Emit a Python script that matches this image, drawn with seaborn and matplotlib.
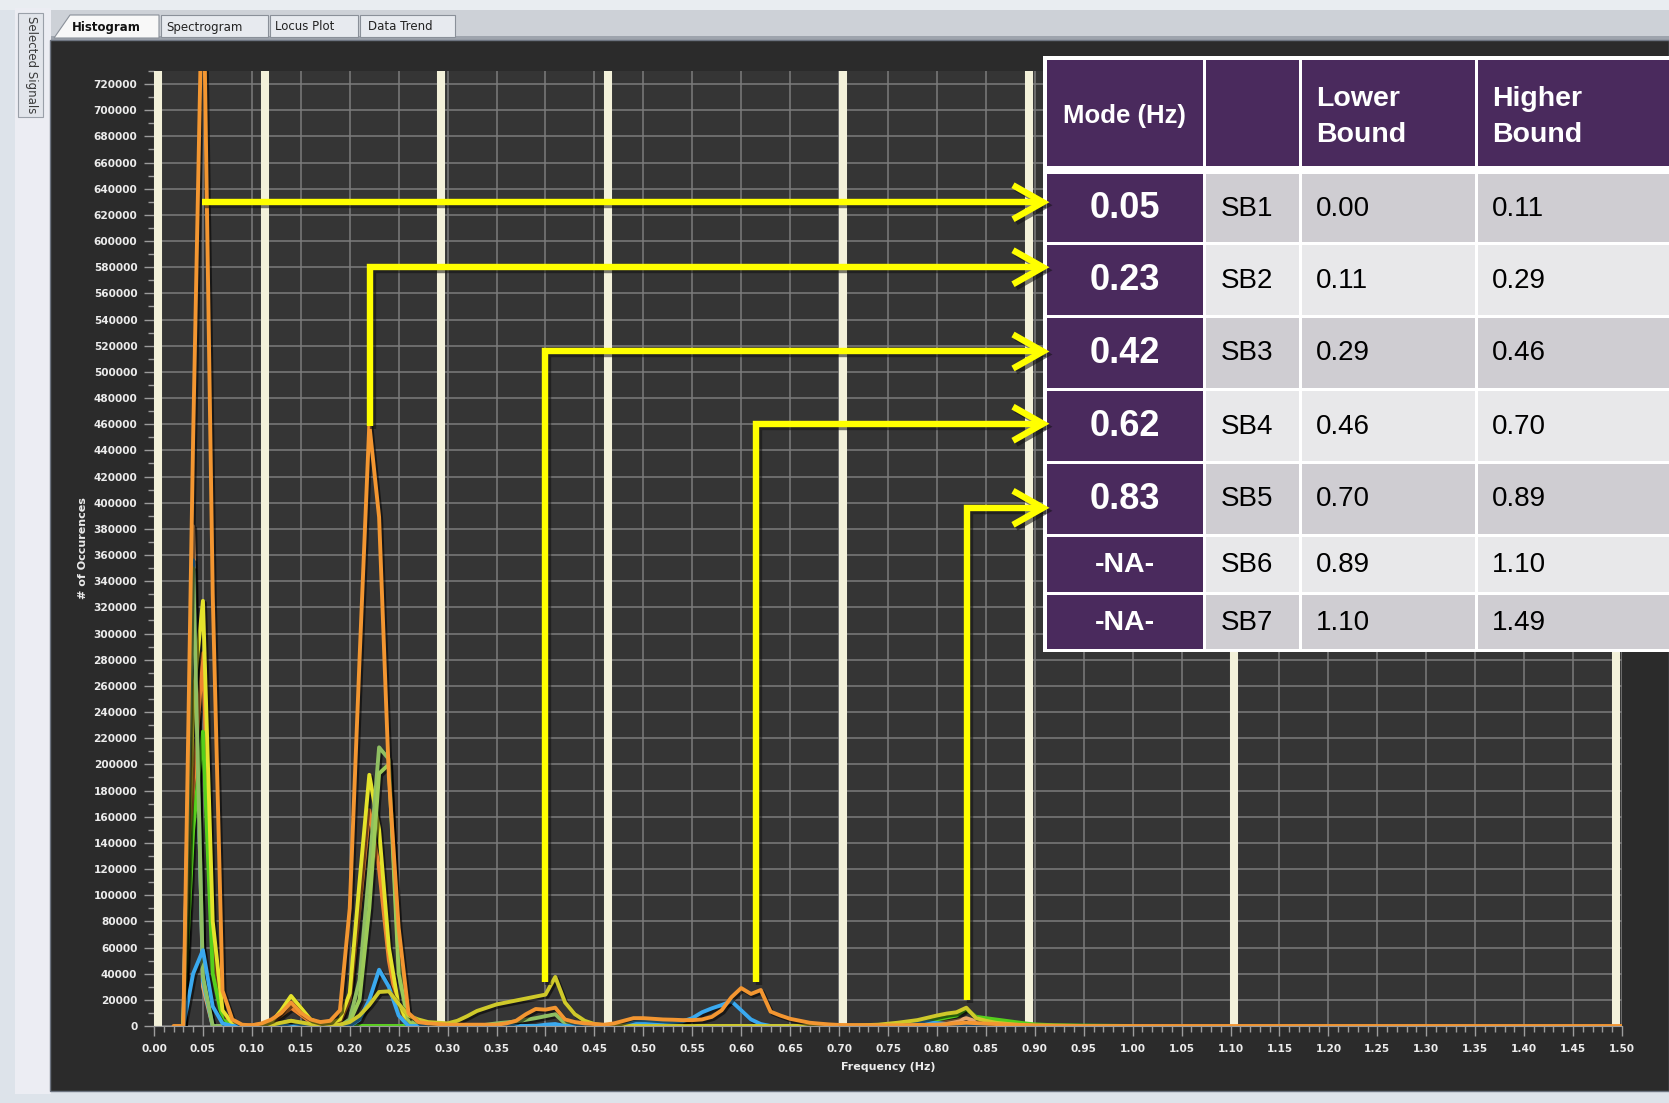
import numpy as np
import pandas as pd
import seaborn as sns
import matplotlib.pyplot as plt
import matplotlib.patheffects as pe
import matplotlib.transforms as mtransforms
from matplotlib.patches import Rectangle, Polygon
from matplotlib.ticker import MultipleLocator, FuncFormatter

W, H, DPI = 1669, 1103, 100

# ---- histogram curves (frequency in Hz, number of occurences) ----
orange_f = [0.02, 0.03, 0.04, 0.05, 0.06, 0.07, 0.08, 0.09, 0.10, 0.11, 0.12, 0.13, 0.14, 0.15,
            0.16, 0.17, 0.18, 0.19, 0.20, 0.21, 0.22, 0.23, 0.24, 0.25, 0.26, 0.27, 0.28, 0.29,
            0.30, 0.35, 0.36, 0.37, 0.38, 0.39, 0.40, 0.41, 0.42, 0.43, 0.44, 0.45, 0.46, 0.47,
            0.48, 0.49, 0.50, 0.51, 0.52, 0.53, 0.54, 0.55, 0.56, 0.57, 0.58, 0.59, 0.60, 0.61,
            0.62, 0.63, 0.64, 0.65, 0.66, 0.67, 0.68, 0.69, 0.70, 0.75, 0.80, 0.83, 0.86, 0.90,
            0.95, 1.50]
orange_n = [0, 0, 450000, 830000, 330000, 27000, 5000, 1000, 500, 2000, 5000, 10000, 18000, 10000,
            5000, 3000, 4000, 12000, 90000, 280000, 460000, 389000, 190000, 75000, 10000, 3000, 2000, 1500,
            1000, 1000, 2000, 4000, 9000, 13000, 12500, 14000, 5000, 3000, 2000, 1500, 1000, 2000,
            4000, 6000, 6000, 5500, 5000, 4800, 4500, 4500, 5000, 7000, 12000, 22000, 29000, 24500,
            27500, 11000, 8000, 5500, 4000, 2500, 1800, 1200, 800, 500, 1000, 2500, 1500, 500,
            0, 0]

orange2_f = [0.03, 0.04, 0.05, 0.06, 0.07, 0.08, 0.09, 0.12, 0.14, 0.16, 0.19, 0.20, 0.21, 0.22,
             0.23, 0.24, 0.25, 0.26, 0.27]
orange2_n = [0, 180000, 285000, 60000, 10000, 2000, 0, 2000, 14000, 3000, 3000, 20000, 90000, 165000,
             120000, 50000, 10000, 2000, 0]

yellow_f = [0.03, 0.04, 0.05, 0.06, 0.07, 0.08, 0.09, 0.11, 0.12, 0.13, 0.14, 0.15, 0.16, 0.17,
            0.18, 0.19, 0.20, 0.21, 0.22, 0.23, 0.24, 0.25, 0.26, 0.27]
yellow_n = [0, 250000, 325000, 80000, 12000, 2000, 0, 0, 3000, 12000, 23000, 14000, 5000, 2000,
            2000, 5000, 25000, 110000, 192000, 150000, 60000, 15000, 3000, 0]

olive_f = [0.10, 0.12, 0.14, 0.16, 0.19, 0.20, 0.21, 0.22, 0.23, 0.24, 0.25, 0.26, 0.27, 0.28,
           0.29, 0.30, 0.31, 0.32, 0.33, 0.34, 0.35, 0.36, 0.37, 0.38, 0.39, 0.40, 0.41, 0.42,
           0.43, 0.44, 0.45, 0.46, 0.50, 0.70, 0.74, 0.76, 0.78, 0.80, 0.81, 0.82, 0.83, 0.84,
           0.85, 0.86, 0.88, 0.90]
olive_n = [0, 1000, 4000, 1500, 1000, 3000, 8000, 16000, 26000, 26500, 17000, 8000, 5000, 3000,
           2500, 2000, 4000, 7500, 11500, 14000, 16500, 18000, 19500, 21000, 22500, 24000, 37500, 18000,
           9000, 4000, 1500, 500, 0, 0, 1000, 2500, 4500, 8000, 9500, 10500, 14000, 6000,
           4000, 2500, 1000, 0]

blue_tall_f = [0.03, 0.04, 0.05, 0.06]
blue_tall_n = [0, 356000, 35000, 0]

sage_f = [0.03, 0.04, 0.05, 0.06, 0.12, 0.13, 0.14, 0.15, 0.19, 0.20, 0.21, 0.22, 0.23, 0.24,
          0.25, 0.26, 0.27, 0.33, 0.35, 0.37, 0.39, 0.40, 0.41, 0.42, 0.43, 0.80, 0.83, 0.86]
sage_n = [0, 350000, 38000, 0, 0, 2000, 4000, 2000, 0, 5000, 35000, 120000, 213000, 204000,
          50000, 5000, 0, 0, 2000, 3500, 6000, 7500, 9000, 2000, 0, 0, 1000, 0]

sage2_f = [0.19, 0.20, 0.21, 0.22, 0.23, 0.24, 0.25, 0.26, 0.27]
sage2_n = [0, 3000, 20000, 90000, 193000, 200000, 40000, 3000, 0]

green_f = [0.03, 0.04, 0.05, 0.06, 0.07, 0.08, 0.75, 0.78, 0.80, 0.82, 0.83, 0.84, 0.85, 0.86,
           0.87, 0.88, 0.89, 0.90, 0.92, 0.95, 1.00]
green_n = [0, 150000, 225000, 40000, 5000, 0, 0, 1500, 5000, 8000, 13000, 7000, 6000, 5000,
           4000, 3000, 2000, 1200, 600, 300, 0]

blue_f = [0.03, 0.04, 0.05, 0.06, 0.07, 0.08, 0.20, 0.21, 0.22, 0.23, 0.24, 0.25, 0.26, 0.39,
          0.40, 0.41, 0.42, 0.48, 0.49, 0.50, 0.52, 0.54, 0.55, 0.56, 0.57, 0.58, 0.59, 0.60,
          0.61, 0.62, 0.63, 0.75, 0.77, 0.79, 0.81, 0.83, 0.85]
blue_n = [0, 40000, 58000, 15000, 2000, 0, 0, 5000, 20000, 43000, 30000, 8000, 0, 0,
          1000, 1500, 0, 0, 2500, 3000, 3000, 3500, 6000, 10500, 13500, 16000, 19000, 12000,
          5000, 1500, 0, 0, 2000, 3000, 1500, 500, 0]

tan_f = [0.03, 0.04, 0.05, 0.06, 0.78, 0.80, 0.82, 0.83, 0.84, 0.86, 0.89, 0.92]
tan_n = [0, 382000, 30000, 0, 0, 2000, 4000, 6000, 3500, 2500, 1000, 0]

# drawing order follows this list
series = [
    ("tan", tan_f, tan_n, "#e8a66c"),
    ("blue_tall", blue_tall_f, blue_tall_n, "#3aa9ef"),
    ("orange2", orange2_f, orange2_n, "#ee8530"),
    ("green", green_f, green_n, "#55cf1c"),
    ("yellow", yellow_f, yellow_n, "#e4e22b"),
    ("sage", sage_f, sage_n, "#8fbf62"),
    ("sage2", sage2_f, sage2_n, "#9ccb58"),
    ("blue", blue_f, blue_n, "#3aa9ef"),
    ("olive", olive_f, olive_n, "#cfc92a"),
    ("orange", orange_f, orange_n, "#f39631"),
]

# sub-band boundaries and table
bounds = [0.00, 0.11, 0.29, 0.46, 0.70, 0.89, 1.10, 1.49]
modes = ["0.05", "0.23", "0.42", "0.62", "0.83", "-NA-", "-NA-"]
bands = ["SB1", "SB2", "SB3", "SB4", "SB5", "SB6", "SB7"]
lower = ["0.00", "0.11", "0.29", "0.46", "0.70", "0.89", "1.10"]
higher = ["0.11", "0.29", "0.46", "0.70", "0.89", "1.10", "1.49"]

# yellow callouts: x of vertical leg, bottom of vertical leg, level of horizontal leg
arrow_x = [0.049, 0.221, 0.40, 0.615, 0.831]
arrow_bottom = [None, 459000, 34000, 34000, 19500]
arrow_level = [629700, 580000, 515600, 460400, 396100]

rows = []
for name, f, n, c in series:
    rows.append(pd.DataFrame({"freq": f, "count": n, "signal": name}))
df = pd.concat(rows, ignore_index=True)
palette = {name: c for name, f, n, c in series}

sns.set_style("dark")
plt.rcParams['font.family'] = ['DejaVu Sans']

fig = plt.figure(figsize=(W / DPI, H / DPI), dpi=DPI, facecolor="#dde3ea")

# background window chrome (pixel coordinates)
bg = fig.add_axes([0, 0, 1, 1], zorder=0)
bg.set_xlim(0, W)
bg.set_ylim(H, 0)
bg.axis("off")
bg.add_patch(Rectangle((0, 0), W, 10, fc="#e9edf1", ec="none"))
bg.add_patch(Rectangle((15, 8), 36, 1086, fc="#ecedf3", ec="none"))
bg.add_patch(Rectangle((18, 13), 25, 104, fc="#e2e5eb", ec="#9aa0a9", lw=0.8))
bg.text(31, 16, "Selected Signals", rotation=270, ha="center", va="top", fontsize=8.5, color="#3a3a3a")
bg.add_patch(Rectangle((51, 10), W - 51, 30, fc="#cdd1d7", ec="none"))
bg.add_patch(Rectangle((51, 36), W - 51, 4, fc="#9ea4ad", ec="none"))
bg.add_patch(Polygon([(54, 38), (70, 15), (159, 15), (159, 38)], closed=True, fc="#f8f8f8", ec="#8a9099", lw=0.8))
for x0, x1 in [(161, 268), (270, 358), (360, 455)]:
    bg.add_patch(Rectangle((x0, 15), x1 - x0, 22, fc="#e7eaef", ec="#8a9099", lw=0.8))
bg.text(106, 27, "Histogram", ha="center", va="center", fontsize=8.5, color="#111111", fontweight="bold")
bg.text(204, 27, "Spectrogram", ha="center", va="center", fontsize=8.5, color="#222222")
bg.text(305, 27, "Locus Plot", ha="center", va="center", fontsize=8.5, color="#222222")
bg.text(400, 27, "Data Trend", ha="center", va="center", fontsize=8.5, color="#222222")
bg.add_patch(Rectangle((50, 40), W - 50, 1051, fc="#2b2b2b", ec="#6d7480", lw=1))

# main histogram axes
x0, x1, y0, y1 = 154, 1622, 1026, 71
ax = fig.add_axes([x0 / W, 1 - y0 / H, (x1 - x0) / W, (y0 - y1) / H], zorder=1)
ax.set_facecolor("#353535")
ax.set_xlim(0, 1.5)
ax.set_ylim(0, 730000)
ax.xaxis.set_major_locator(MultipleLocator(0.05))
ax.xaxis.set_minor_locator(MultipleLocator(0.01))
ax.yaxis.set_major_locator(MultipleLocator(20000))
ax.yaxis.set_minor_locator(MultipleLocator(10000))
ax.xaxis.set_major_formatter(FuncFormatter(lambda v, p: f"{v:.2f}"))
ax.yaxis.set_major_formatter(FuncFormatter(lambda v, p: f"{int(round(v))}"))
ax.grid(True, which="major", color="#7c7c7c", lw=1.1)
ax.set_axisbelow(True)
ax.tick_params(which="both", colors="#9c9c9c", labelcolor="#ececec", labelsize=7.6)
ax.tick_params(which="major", length=7, width=1)
ax.tick_params(which="minor", length=4, width=1)
ax.tick_params(axis="x", which="both", bottom=True, pad=6)
ax.tick_params(axis="y", which="both", left=True, pad=5)
for lab in ax.get_xticklabels() + ax.get_yticklabels():
    lab.set_fontweight("bold")
for s in ax.spines.values():
    s.set_visible(False)
ax.spines["bottom"].set_visible(True)
ax.spines["bottom"].set_color("#9c9c9c")

# sub-band boundary bars, nudged a few pixels right like the original tool draws them
band_tr = ax.get_xaxis_transform() + mtransforms.ScaledTranslation(3.5 / DPI, 0, fig.dpi_scale_trans)
for b in bounds:
    ax.plot([b, b], [0, 1], transform=band_tr, color="#f3f1da", lw=5.8, zorder=1.5,
            solid_capstyle="butt", clip_on=False)
n_bands = len(ax.lines)

sns.lineplot(data=df, x="freq", y="count", hue="signal", hue_order=[s[0] for s in series],
             palette=palette, estimator=None, sort=False, lw=2.8, legend=False, ax=ax)
for line in ax.lines[n_bands:]:
    line.set_path_effects([pe.SimpleLineShadow(offset=(1.5, -1.5), shadow_color="black", alpha=0.55),
                           pe.Normal()])

ax.set_xlabel("Frequency (Hz)", fontsize=8, color="#ececec", labelpad=6, fontweight="bold")
ax.set_ylabel("# of Occurences", fontsize=8, color="#ececec", labelpad=4, fontweight="bold")

# overlay: callout arrows and the sub-band table (pixel coordinates)
ov = fig.add_axes([0, 0, 1, 1], zorder=2)
ov.set_xlim(0, W)
ov.set_ylim(H, 0)
ov.axis("off")


def to_px(f, v):
    disp = ax.transData.transform((f, v))
    return ov.transData.inverted().transform(disp)


tbl_left = 1045
tip = tbl_left - 2
for xa, yb, yl in zip(arrow_x, arrow_bottom, arrow_level):
    px, py = to_px(xa, yl)
    pts = [(px, py), (tip, py)]
    if yb is not None:
        bx, by = to_px(xa, yb)
        pts = [(bx, by)] + pts
    xs, ys = zip(*pts)
    head = [(tip - 30, py - 17), (tip, py), (tip - 30, py + 17)]
    hx, hy = zip(*head)
    for dx, col, al in [(3, "#111111", 0.55), (0, "#ffff00", 1.0)]:
        ov.plot([x + dx for x in xs], [y + dx for y in ys], color=col, alpha=al, lw=4.6,
                solid_joinstyle="miter", solid_capstyle="butt")
        ov.plot([x + dx for x in hx], [y + dx for y in hy], color=col, alpha=al, lw=4.6,
                solid_joinstyle="miter", solid_capstyle="butt")

cols = [tbl_left, 1204, 1300, 1476, W + 20]
row_edges = [172, 243, 316, 389, 462, 535, 593, 650]
head_top, head_bot = 58, 167
purple = "#4a2a5d"
ov.add_patch(Rectangle((tbl_left - 2, head_top - 2), W - tbl_left + 30, row_edges[-1] - head_top + 4,
                       fc="white", ec="none"))
for c in range(4):
    ov.add_patch(Rectangle((cols[c] + 1.5, head_top + 1.5), cols[c + 1] - cols[c] - 3,
                           head_bot - head_top - 3, fc=purple, ec="none"))
for r in range(7):
    ytop, ybot = row_edges[r], row_edges[r + 1]
    grey = "#cfcdd2" if r % 2 == 0 else "#e8e8ea"
    for c in range(4):
        fc = purple if c == 0 else grey
        ov.add_patch(Rectangle((cols[c] + 1.5, ytop + 1.5), cols[c + 1] - cols[c] - 3,
                               ybot - ytop - 3, fc=fc, ec="none"))
    yc = (ytop + ybot) / 2
    big = modes[r] != "-NA-"
    ov.text((cols[0] + cols[1]) / 2, yc + 1, modes[r], ha="center", va="center", color="white",
            fontsize=26 if big else 20.5, fontweight="bold", family="Liberation Sans")
    ov.text(1221, yc + 1, bands[r], ha="left", va="center", color="black", fontsize=20, family="Liberation Sans")
    ov.text(1316, yc + 1, lower[r], ha="left", va="center", color="black", fontsize=20, family="Liberation Sans")
    ov.text(1492, yc + 1, higher[r], ha="left", va="center", color="black", fontsize=20, family="Liberation Sans")

ov.text((cols[0] + cols[1]) / 2, 116, "Mode (Hz)", ha="center", va="center", color="white",
        fontsize=18.5, fontweight="bold", family="Liberation Sans")
ov.text(1316, 117, "Lower\nBound", ha="left", va="center", color="white", fontsize=20.5,
        fontweight="bold", family="Liberation Sans", linespacing=1.55)
ov.text(1492, 117, "Higher\nBound", ha="left", va="center", color="white", fontsize=20.5,
        fontweight="bold", family="Liberation Sans", linespacing=1.55)

fig.savefig("out.png", dpi=DPI, facecolor=fig.get_facecolor())
